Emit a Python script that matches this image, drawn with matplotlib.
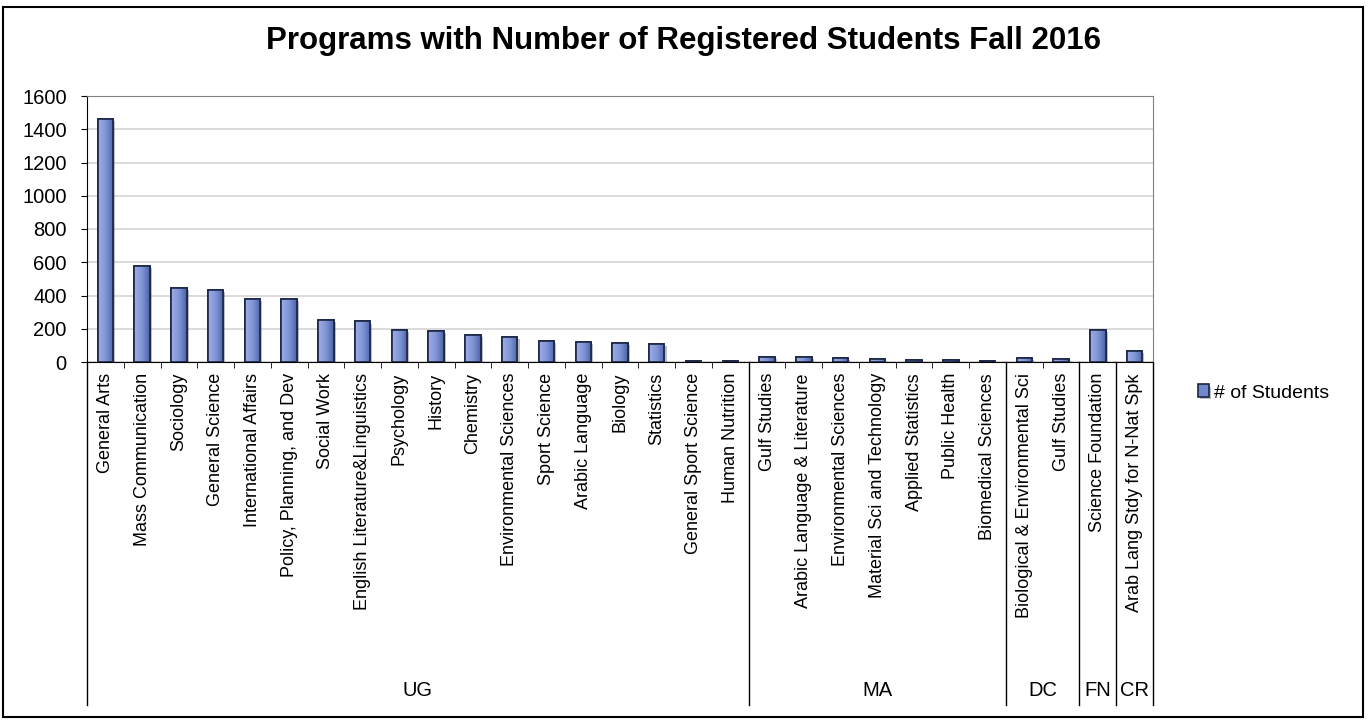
import numpy as np
import matplotlib
matplotlib.use("Agg")
import matplotlib.pyplot as plt
import matplotlib.patheffects as pe
from matplotlib.patches import Rectangle
from matplotlib.colors import LinearSegmentedColormap
import matplotlib.transforms as mtransforms

programs = ["General Arts", "Mass Communication", "Sociology", "General Science",
            "International Affairs", "Policy, Planning, and Dev", "Social Work",
            "English Literature&Linguistics", "Psychology", "History", "Chemistry",
            "Environmental Sciences", "Sport Science", "Arabic Language", "Biology",
            "Statistics", "General Sport Science", "Human Nutrition",
            "Gulf Studies", "Arabic Language & Literature", "Environmental Sciences",
            "Material Sci and Technology", "Applied Statistics", "Public Health",
            "Biomedical Sciences",
            "Biological & Environmental Sci", "Gulf Studies",
            "Science Foundation",
            "Arab Lang Stdy for N-Nat Spk"]
students = [1462, 577, 443, 433, 379, 377, 251, 244, 190, 184, 160, 152, 126, 120, 112, 108, 8, 4,
            33, 28, 23, 18, 12, 12, 5,
            22, 16,
            192,
            64]
levels = ["UG", "MA", "DC", "FN", "CR"]
level_counts = [18, 7, 2, 1, 1]

plt.rcParams['font.family'] = ['Liberation Sans', 'DejaVu Sans']

fig = plt.figure(figsize=(13.7, 7.2), dpi=100)
ax = fig.add_axes([87 / 1370, 1 - 362 / 720, (1153 - 87) / 1370, (362 - 96) / 720])

x = np.arange(len(programs))
bars = ax.bar(x, students, width=0.42, color="#7288cc", edgecolor="#1a2444", linewidth=1.2,
              label="# of Students", zorder=3,
              path_effects=[pe.SimplePatchShadow(offset=(1.5, -1.5), alpha=0.3), pe.Normal()])

# horizontal gradient inside each bar
cmap = LinearSegmentedColormap.from_list("g", ["#9dade6", "#8095d6", "#4d63a8"])
grad = np.linspace(0, 1, 64).reshape(1, -1)
for b in bars:
    bx, by = b.get_x(), b.get_y()
    im = ax.imshow(grad, cmap=cmap, aspect="auto", zorder=3.5,
                   extent=[bx, bx + b.get_width(), by, by + b.get_height()])
    im.set_clip_path(b)
    edge = Rectangle((bx, by), b.get_width(), b.get_height(), fill=False,
                     edgecolor="#1a2444", linewidth=1.2, zorder=4)
    ax.add_patch(edge)

ax.set_xlim(-0.5, len(programs) - 0.5)
ax.set_ylim(0, 1600)
ax.set_yticks(np.arange(0, 1601, 200))
ax.yaxis.grid(True, color="#d4d4d4", linewidth=1.2, zorder=0)
ax.tick_params(axis="y", labelsize=14.5, length=4.5, pad=10, direction="out")

ax.set_xticks(x)
ax.set_xticklabels(programs, rotation=90, fontsize=13, va="top", ha="center")
ax.set_xticks(np.arange(-0.5, len(programs)), minor=True)
ax.tick_params(axis="x", which="major", length=0, pad=8)
ax.tick_params(axis="x", which="minor", length=4, direction="out")

for s in ["top", "right"]:
    ax.spines[s].set_color("#808080")
ax.spines["left"].set_color("black")
ax.spines["bottom"].set_color("black")

# group separators and group labels below the category labels
trans = mtransforms.blended_transform_factory(ax.transData, ax.transAxes)
bounds = np.concatenate([[0], np.cumsum(level_counts)]) - 0.5
bottom_y = (362 - 705) / 266
for bnd in bounds:
    ax.plot([bnd, bnd], [0, bottom_y], transform=trans, color="black", linewidth=1,
            clip_on=False)
for lvl, lo, hi in zip(levels, bounds[:-1], bounds[1:]):
    ax.text((lo + hi) / 2, (362 - 691) / 266, lvl, transform=trans, ha="center",
            va="center", fontsize=14.5)

ax.legend(loc="center left", bbox_to_anchor=(1180 / 1370, 1 - 393 / 720),
          bbox_transform=fig.transFigure, frameon=False, fontsize=14,
          handlelength=0.6, handleheight=0.6, handletextpad=0.25)

fig.text(683 / 1370, 1 - 49 / 720, "Programs with Number of Registered Students Fall 2016",
         ha="center", va="baseline", fontsize=22.5, fontweight="bold")

fig.patches.append(Rectangle((3 / 1370, 3 / 720), 1360 / 1370, 710 / 720, fill=False,
                             edgecolor="black", linewidth=1.5, transform=fig.transFigure))

fig.savefig("out.png", dpi=100)
